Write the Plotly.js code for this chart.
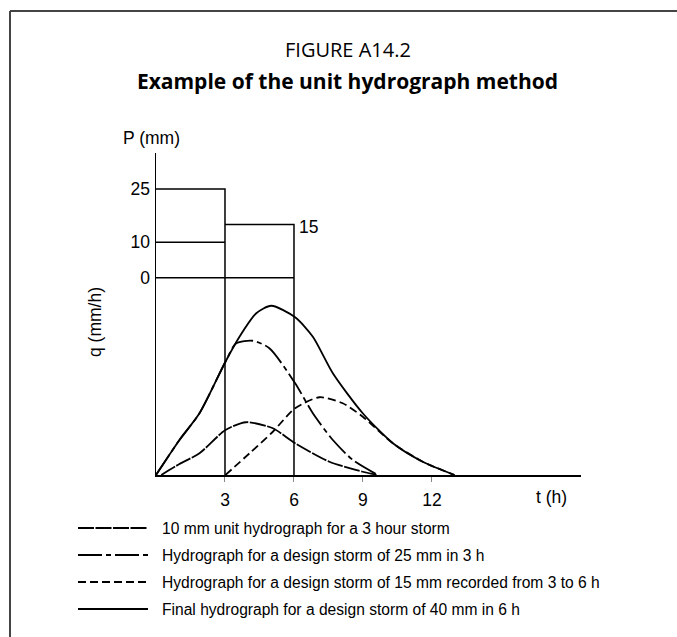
<!DOCTYPE html>
<html>
<head>
<meta charset="utf-8">
<script src="https://cdn.plot.ly/plotly-3.0.1.min.js"></script>
<style>html,body{margin:0;padding:0;background:#fff;}#chart{width:677px;height:637px;}</style>
</head>
<body>
<div id="chart"></div>
<script>
// ---- data ----
const tickHours = [3, 6, 9, 12];
const tickHourLabels = ['3', '6', '9', '12'];
const pTicks = [0, 10, 25];
const pTickLabels = ['0', '10', '25'];
const stormStart = [0, 3];
const stormEnd = [3, 6];
const stormDepth = [25, 15];
const unitDepth = 10;

const seriesNames = [
  '10 mm unit hydrograph for a 3 hour storm',
  'Hydrograph for a design storm of 25 mm in 3 h',
  'Hydrograph for a design storm of 15 mm recorded from 3 to 6 h',
  'Final hydrograph for a design storm of 40 mm in 6 h'
];
const unitT = [0.23, 1.0, 1.89, 3.02, 3.92, 5.08, 6.05, 7.54, 8.99, 9.64];
const unitQ = [0, 0.43, 0.87, 1.80, 2.11, 1.87, 1.27, 0.53, 0.13, 0];
const design25T = [0, 1.02, 1.89, 3.02, 3.49, 4.21, 4.93, 6.05, 6.82, 7.69, 8.56, 9.64];
const design25Q = [0, 1.40, 2.47, 4.53, 5.27, 5.37, 5.07, 3.67, 2.47, 1.40, 0.60, 0];
const design15T = [3.02, 4.07, 5.08, 6.05, 7.11, 8.12, 8.99, 10.30, 11.60, 12.98];
const design15Q = [0, 0.87, 1.73, 2.67, 3.11, 2.87, 2.33, 1.27, 0.53, 0];
const finalT = [0, 1.02, 1.89, 3.02, 3.63, 4.36, 5.01, 6.05, 6.82, 7.69, 8.99, 10.30, 11.60, 12.98];
const finalQ = [0, 1.40, 2.47, 4.53, 5.53, 6.47, 6.77, 6.31, 5.53, 4.07, 2.47, 1.27, 0.53, 0];

// ---- layout constants ----
const W = 677, H = 637;
const px = v => v / W;
const py = v => 1 - v / H;
const xRange = [0, 18.48];
const qRange = [0, 12.88];
const pRange = [-55.6, 35.15];
const pBottom = pRange[0];
const narrow = '"Liberation Sans", Arial, sans-serif';
const humanist = '"Open Sans", "Noto Sans", sans-serif';
const dashes = ['16px,1.5px', '24px,4px,5px,4px', '8px,4px', 'solid'];
const LW = 1.8;
const axisFont = {family: narrow, size: 17.5, color: '#000'};

const traces = [];
// rainfall blocks (P axis)
for (let i = 0; i < stormStart.length; i++) {
  traces.push({
    x: [stormStart[i], stormEnd[i], stormEnd[i]],
    y: [stormDepth[i], stormDepth[i], pBottom],
    xaxis: 'x', yaxis: 'y2', mode: 'lines', hoverinfo: 'skip', showlegend: false,
    line: {color: '#000', width: 1.5}
  });
}
traces.push({
  x: [stormStart[0], stormEnd[0]], y: [unitDepth, unitDepth],
  xaxis: 'x', yaxis: 'y2', mode: 'lines', showlegend: false, hoverinfo: 'skip',
  line: {color: '#000', width: 1.5}
});
traces.push({
  x: [stormStart[0], stormEnd[stormEnd.length - 1]], y: [0, 0],
  xaxis: 'x', yaxis: 'y2', mode: 'lines', showlegend: false, hoverinfo: 'skip',
  line: {color: '#000', width: 1.5}
});
// hydrographs
const curves = [[unitT, unitQ], [design25T, design25Q], [design15T, design15Q], [finalT, finalQ]];
curves.forEach((c, i) => {
  traces.push({
    x: c[0], y: c[1], name: seriesNames[i], mode: 'lines',
    line: {color: '#000', width: LW, dash: dashes[i], shape: 'spline', smoothing: 0.7},
    showlegend: false
  });
});

// frame (left and top edges) and manual legend
const legendRows = [528, 555, 582, 609];
const shapes = [
  {type: 'line', xref: 'paper', yref: 'paper', x0: px(10), x1: px(10), y0: py(640), y1: py(11),
   line: {color: '#444', width: 2}},
  {type: 'line', xref: 'paper', yref: 'paper', x0: px(10), x1: px(680), y0: py(11), y1: py(11),
   line: {color: '#444', width: 2}}
];
const annotations = [];
seriesNames.forEach((n, i) => {
  shapes.push({type: 'line', xref: 'paper', yref: 'paper',
    x0: px(78), x1: px(148), y0: py(legendRows[i]), y1: py(legendRows[i]),
    line: {color: '#000', width: LW, dash: dashes[i]}});
  annotations.push({xref: 'paper', yref: 'paper', x: px(160), y: py(legendRows[i]),
    xanchor: 'left', yanchor: 'middle', showarrow: false, text: n,
    font: {family: narrow, size: 15.6, color: '#000'}});
});
annotations.push({xref: 'paper', yref: 'paper', x: px(347.5), y: py(49.5), xanchor: 'center', yanchor: 'middle',
  showarrow: false, text: 'FIGURE A14.2', font: {family: humanist, size: 20, color: '#000'}});
annotations.push({xref: 'paper', yref: 'paper', x: px(151), y: py(138), xanchor: 'center', yanchor: 'middle',
  showarrow: false, text: 'P (mm)', font: axisFont});
annotations.push({xref: 'paper', yref: 'paper', x: px(95), y: py(322), xanchor: 'center', yanchor: 'middle',
  textangle: -90, showarrow: false, text: 'q (mm/h)', font: axisFont});
annotations.push({xref: 'paper', yref: 'paper', x: px(551.5), y: py(497), xanchor: 'center', yanchor: 'middle',
  showarrow: false, text: 't (h)', font: axisFont});
annotations.push({xref: 'x', yref: 'y2', x: stormEnd[1], y: stormDepth[1], xanchor: 'left', yanchor: 'middle',
  xshift: 3, yshift: -2, showarrow: false, text: String(stormDepth[1]), font: axisFont});

const layout = {
  width: W, height: H,
  margin: {l: 0, r: 0, t: 0, b: 0},
  paper_bgcolor: '#fff', plot_bgcolor: 'rgba(0,0,0,0)',
  showlegend: false,
  title: {text: '<b>Example of the unit hydrograph method</b>', x: px(347.5), xanchor: 'center',
    xref: 'paper', y: py(82), yref: 'container', yanchor: 'middle',
    font: {family: humanist, size: 21, color: '#000'}},
  xaxis: {domain: [px(156), px(581)], range: xRange, showgrid: false, zeroline: false,
    showline: true, linecolor: '#000', linewidth: 1.5,
    tickmode: 'array', tickvals: tickHours, ticktext: tickHourLabels,
    ticks: 'outside', ticklen: 5, tickcolor: '#888', tickwidth: 1, ticklabelstandoff: 3,
    tickfont: axisFont, automargin: false, fixedrange: true},
  yaxis: {domain: [1 - 475 / H, 1 - 153 / H], range: qRange, showgrid: false, zeroline: false,
    showline: true, linecolor: '#000', linewidth: 1.5, showticklabels: false, ticks: '',
    automargin: false, fixedrange: true},
  yaxis2: {overlaying: 'y', anchor: 'x', side: 'left', range: pRange, showgrid: false, zeroline: false,
    showline: false, tickmode: 'array', tickvals: pTicks, ticktext: pTickLabels, ticks: '',
    ticklabelstandoff: 5, tickfont: axisFont,
    automargin: false, fixedrange: true},
  shapes: shapes,
  annotations: annotations
};

Plotly.newPlot('chart', traces, layout, {staticPlot: true, displayModeBar: false});
</script>
</body>
</html>
